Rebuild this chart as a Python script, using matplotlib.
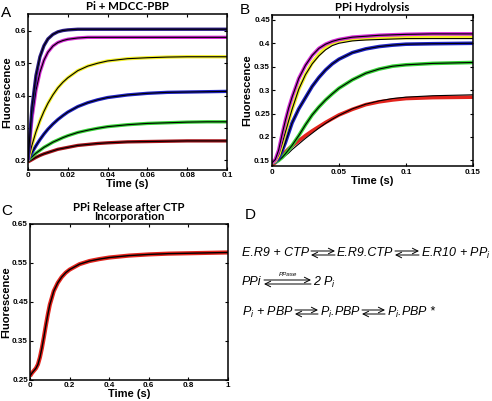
import numpy as np
import matplotlib
matplotlib.use('Agg')
import matplotlib.pyplot as plt
from matplotlib.font_manager import FontProperties

plt.rcParams['mathtext.fontset'] = 'custom'
plt.rcParams['mathtext.it'] = 'Liberation Sans:italic'
plt.rcParams['mathtext.rm'] = 'Liberation Sans'
plt.rcParams['mathtext.default'] = 'it'

# ---- panel A: Pi + MDCC-PBP ----
t_a = [0, 0.002, 0.004, 0.006, 0.008, 0.01, 0.0125, 0.015, 0.0175, 0.02,
       0.025, 0.03, 0.035, 0.04, 0.05, 0.06, 0.07, 0.08, 0.09, 0.1]
a_navy = [0.200, 0.364, 0.462, 0.520, 0.554, 0.575, 0.589, 0.597, 0.601, 0.603,
          0.605, 0.605, 0.605, 0.605, 0.605, 0.605, 0.605, 0.605, 0.605, 0.605]
a_magenta = [0.200, 0.330, 0.416, 0.472, 0.509, 0.534, 0.553, 0.564, 0.570, 0.574,
             0.578, 0.580, 0.580, 0.580, 0.580, 0.580, 0.580, 0.580, 0.580, 0.580]
a_yellow = [0.200, 0.247, 0.288, 0.322, 0.351, 0.376, 0.402, 0.424, 0.441, 0.455,
            0.477, 0.491, 0.500, 0.507, 0.514, 0.517, 0.519, 0.520, 0.520, 0.520]
a_blue = [0.200, 0.224, 0.245, 0.264, 0.281, 0.296, 0.312, 0.326, 0.338, 0.349,
          0.366, 0.378, 0.387, 0.394, 0.402, 0.407, 0.410, 0.411, 0.412, 0.413]
a_green = [0.200, 0.211, 0.222, 0.231, 0.240, 0.247, 0.256, 0.263, 0.270, 0.276,
           0.286, 0.293, 0.299, 0.304, 0.310, 0.314, 0.316, 0.318, 0.319, 0.319]
a_red = [0.195, 0.202, 0.209, 0.215, 0.220, 0.224, 0.229, 0.234, 0.237, 0.240,
         0.246, 0.249, 0.252, 0.254, 0.257, 0.258, 0.259, 0.260, 0.260, 0.260]

# ---- panel B: PPi Hydrolysis ----
t_b = [0, 0.0025, 0.005, 0.0075, 0.01, 0.0125, 0.015, 0.02, 0.025, 0.03, 0.035,
       0.04, 0.045, 0.05, 0.06, 0.07, 0.08, 0.09, 0.1, 0.12, 0.15]
b_magenta = [0.145, 0.152, 0.172, 0.205, 0.235, 0.262, 0.285, 0.325, 0.353, 0.374, 0.389,
             0.398, 0.404, 0.408, 0.413, 0.415, 0.417, 0.418, 0.419, 0.420, 0.420]
b_yellow = [0.145, 0.149, 0.162, 0.185, 0.210, 0.235, 0.259, 0.302, 0.333, 0.358, 0.376,
            0.390, 0.399, 0.404, 0.408, 0.410, 0.411, 0.412, 0.412, 0.413, 0.413]
b_yellow_fit = [0.145, 0.149, 0.162, 0.185, 0.210, 0.235, 0.259, 0.302, 0.333, 0.356, 0.373,
                0.386, 0.395, 0.400, 0.405, 0.407, 0.408, 0.409, 0.410, 0.410, 0.410]
b_blue = [0.145, 0.147, 0.155, 0.170, 0.188, 0.209, 0.230, 0.260, 0.284, 0.308, 0.327,
          0.343, 0.356, 0.366, 0.380, 0.388, 0.393, 0.396, 0.398, 0.399, 0.400]
b_green = [0.145, 0.146, 0.150, 0.156, 0.164, 0.173, 0.182, 0.203, 0.226, 0.247, 0.264,
           0.279, 0.292, 0.304, 0.322, 0.336, 0.345, 0.351, 0.354, 0.357, 0.359]
b_red = [0.140, 0.145, 0.152, 0.160, 0.168, 0.175, 0.181, 0.192, 0.203, 0.213, 0.222,
         0.231, 0.239, 0.247, 0.259, 0.269, 0.275, 0.279, 0.282, 0.284, 0.285]
b_red_fit = [0.145, 0.146, 0.149, 0.154, 0.160, 0.166, 0.173, 0.185, 0.197, 0.208, 0.219,
             0.229, 0.238, 0.246, 0.260, 0.270, 0.277, 0.282, 0.285, 0.288, 0.290]

# ---- panel C: PPi release after CTP incorporation ----
t_c = [0, 0.01, 0.02, 0.03, 0.04, 0.05, 0.06, 0.07, 0.08, 0.09, 0.1, 0.12, 0.14,
       0.16, 0.18, 0.2, 0.25, 0.3, 0.35, 0.4, 0.5, 0.6, 0.7, 0.8, 0.9, 1.0]
c_red = [0.260, 0.268, 0.274, 0.280, 0.290, 0.308, 0.332, 0.360, 0.390, 0.418, 0.443,
         0.478, 0.499, 0.514, 0.525, 0.533, 0.547, 0.555, 0.560, 0.564, 0.569, 0.572,
         0.574, 0.575, 0.576, 0.577]

colors = {'navy': '#2b1b86', 'magenta': '#d52ad5', 'yellow': '#f2ee2a',
          'blue': '#1f22c4', 'green': '#35d435', 'red': '#e3231c', 'darkred': '#a8141a'}

tickfont = dict(family='Liberation Sans', weight='bold', size=5.8)
labfont = dict(family='Liberation Sans', weight='bold', size=8)
titlefont = dict(family='Lato', weight='bold', size=8.3)


def style(ax, ylab_x):
    ax.tick_params(direction='in', top=True, right=True, length=2.5, width=0.8, pad=1.5)
    for lab in ax.get_xticklabels() + ax.get_yticklabels():
        lab.set_fontproperties(FontProperties(**tickfont))
    for s in ax.spines.values():
        s.set_linewidth(1.1)
    ax.set_xlabel('Time (s)', labelpad=0, **labfont)
    ax.set_ylabel('Fluorescence', **labfont)
    ax.yaxis.set_label_coords(ylab_x, 0.5)


fig = plt.figure(figsize=(4.92, 4.01), dpi=100)

# A
ax = fig.add_axes([0.0569, 0.576, 0.4045, 0.389])
for y, c in [(a_red, 'darkred'), (a_green, 'green'), (a_blue, 'blue'),
             (a_yellow, 'yellow'), (a_magenta, 'magenta'), (a_navy, 'navy')]:
    ax.plot(t_a, y, color=colors[c], lw=2.4, solid_capstyle='butt')
    ax.plot(t_a, y, color='black', lw=0.8)
ax.set_xlim(0, 0.1)
ax.set_ylim(0.17, 0.652)
ax.set_xticks([0, 0.02, 0.04, 0.06, 0.08, 0.1])
ax.set_xticklabels(['0', '0.02', '0.04', '0.06', '0.08', '0.1'])
ax.set_yticks([0.2, 0.3, 0.4, 0.5, 0.6])
ax.set_yticklabels(['0.2', '0.3', '0.4', '0.5', '0.6'])
style(ax, -0.08)
ax.set_title('Pi + MDCC-PBP', pad=3, **titlefont)

# B
ax = fig.add_axes([0.5528, 0.5848, 0.4085, 0.3786])
for y, f, c in [(b_red, b_red_fit, 'red'), (b_green, b_green, 'green'),
                (b_blue, b_blue, 'blue'), (b_yellow, b_yellow_fit, 'yellow'),
                (b_magenta, b_magenta, 'magenta')]:
    ax.plot(t_b, y, color=colors[c], lw=2.6, solid_capstyle='butt')
    ax.plot(t_b, f, color='black', lw=0.8)
ax.set_xlim(0, 0.15)
ax.set_ylim(0.137, 0.461)
ax.set_xticks([0, 0.05, 0.1, 0.15])
ax.set_xticklabels(['0', '0.05', '0.1', '0.15'])
ax.set_yticks([0.15, 0.2, 0.25, 0.3, 0.35, 0.4, 0.45])
ax.set_yticklabels(['0.15', '0.2', '0.25', '0.3', '0.35', '0.4', '0.45'])
style(ax, -0.1)
ax.set_title('PPi Hydrolysis', pad=3, **titlefont)

# C
ax = fig.add_axes([0.061, 0.0524, 0.4024, 0.389])
ax.plot(t_c, c_red, color=colors['red'], lw=3.0, solid_capstyle='butt')
ax.plot(t_c, c_red, color='black', lw=1.0)
ax.set_xlim(0, 1)
ax.set_ylim(0.25, 0.65)
ax.set_xticks([0, 0.2, 0.4, 0.6, 0.8, 1])
ax.set_xticklabels(['0', '0.2', '0.4', '0.6', '0.8', '1'])
ax.set_yticks([0.25, 0.35, 0.45, 0.55, 0.65])
ax.set_yticklabels(['0.25', '0.35', '0.45', '0.55', '0.65'])
style(ax, -0.097)
ax.set_title('PPi Release after CTP\nIncorporation', pad=3, linespacing=0.8, **titlefont)

# overlay in pixel coordinates for letters and scheme D
ov = fig.add_axes([0, 0, 1, 1], zorder=-1)
ov.set_xlim(0, 492)
ov.set_ylim(401, 0)
ov.axis('off')

letter = dict(family='Liberation Sans', size=11, va='center', ha='left')
ov.text(1, 13, 'A', **letter)
ov.text(240, 10, 'B', **letter)
ov.text(1, 211, 'C', **letter)
ov.text(245, 215, 'D', **letter)

eq = dict(family='Liberation Sans', style='italic', size=9, va='center')


def eqarrow(x0, x1, y):
    ov.annotate('', xy=(x1, y - 2), xytext=(x0, y - 2),
                arrowprops=dict(arrowstyle='->,head_length=0.4,head_width=0.2', lw=0.7,
                                color='black', shrinkA=0, shrinkB=0))
    ov.annotate('', xy=(x0, y + 2), xytext=(x1, y + 2),
                arrowprops=dict(arrowstyle='->,head_length=0.4,head_width=0.2', lw=0.7,
                                color='black', shrinkA=0, shrinkB=0))


y1, y2, y3 = 253, 282, 312
ov.text(242, y1, 'E.R9 + CTP', **eq)
eqarrow(311, 335, y1)
ov.text(337, y1, 'E.R9.CTP', **eq)
eqarrow(395, 419, y1)
ov.text(421, y1, 'E.R10 + PP$_i$', **eq)

ov.text(242, y2, 'PPi', **eq)
eqarrow(264, 311, y2)
ov.text(288, y2 - 8, 'PPase', family='Liberation Sans', style='italic', size=4.5,
        ha='center', va='center')
ov.text(313, y2, '2 P$_i$', **eq)

ov.text(242, y3, 'P$_i$ + PBP', **eq)
eqarrow(295, 318, y3)
ov.text(320, y3, 'P$_i$.PBP', **eq)
eqarrow(362, 385, y3)
ov.text(387, y3, 'P$_i$.PBP *', **eq)

fig.savefig('out.png', dpi=100)
